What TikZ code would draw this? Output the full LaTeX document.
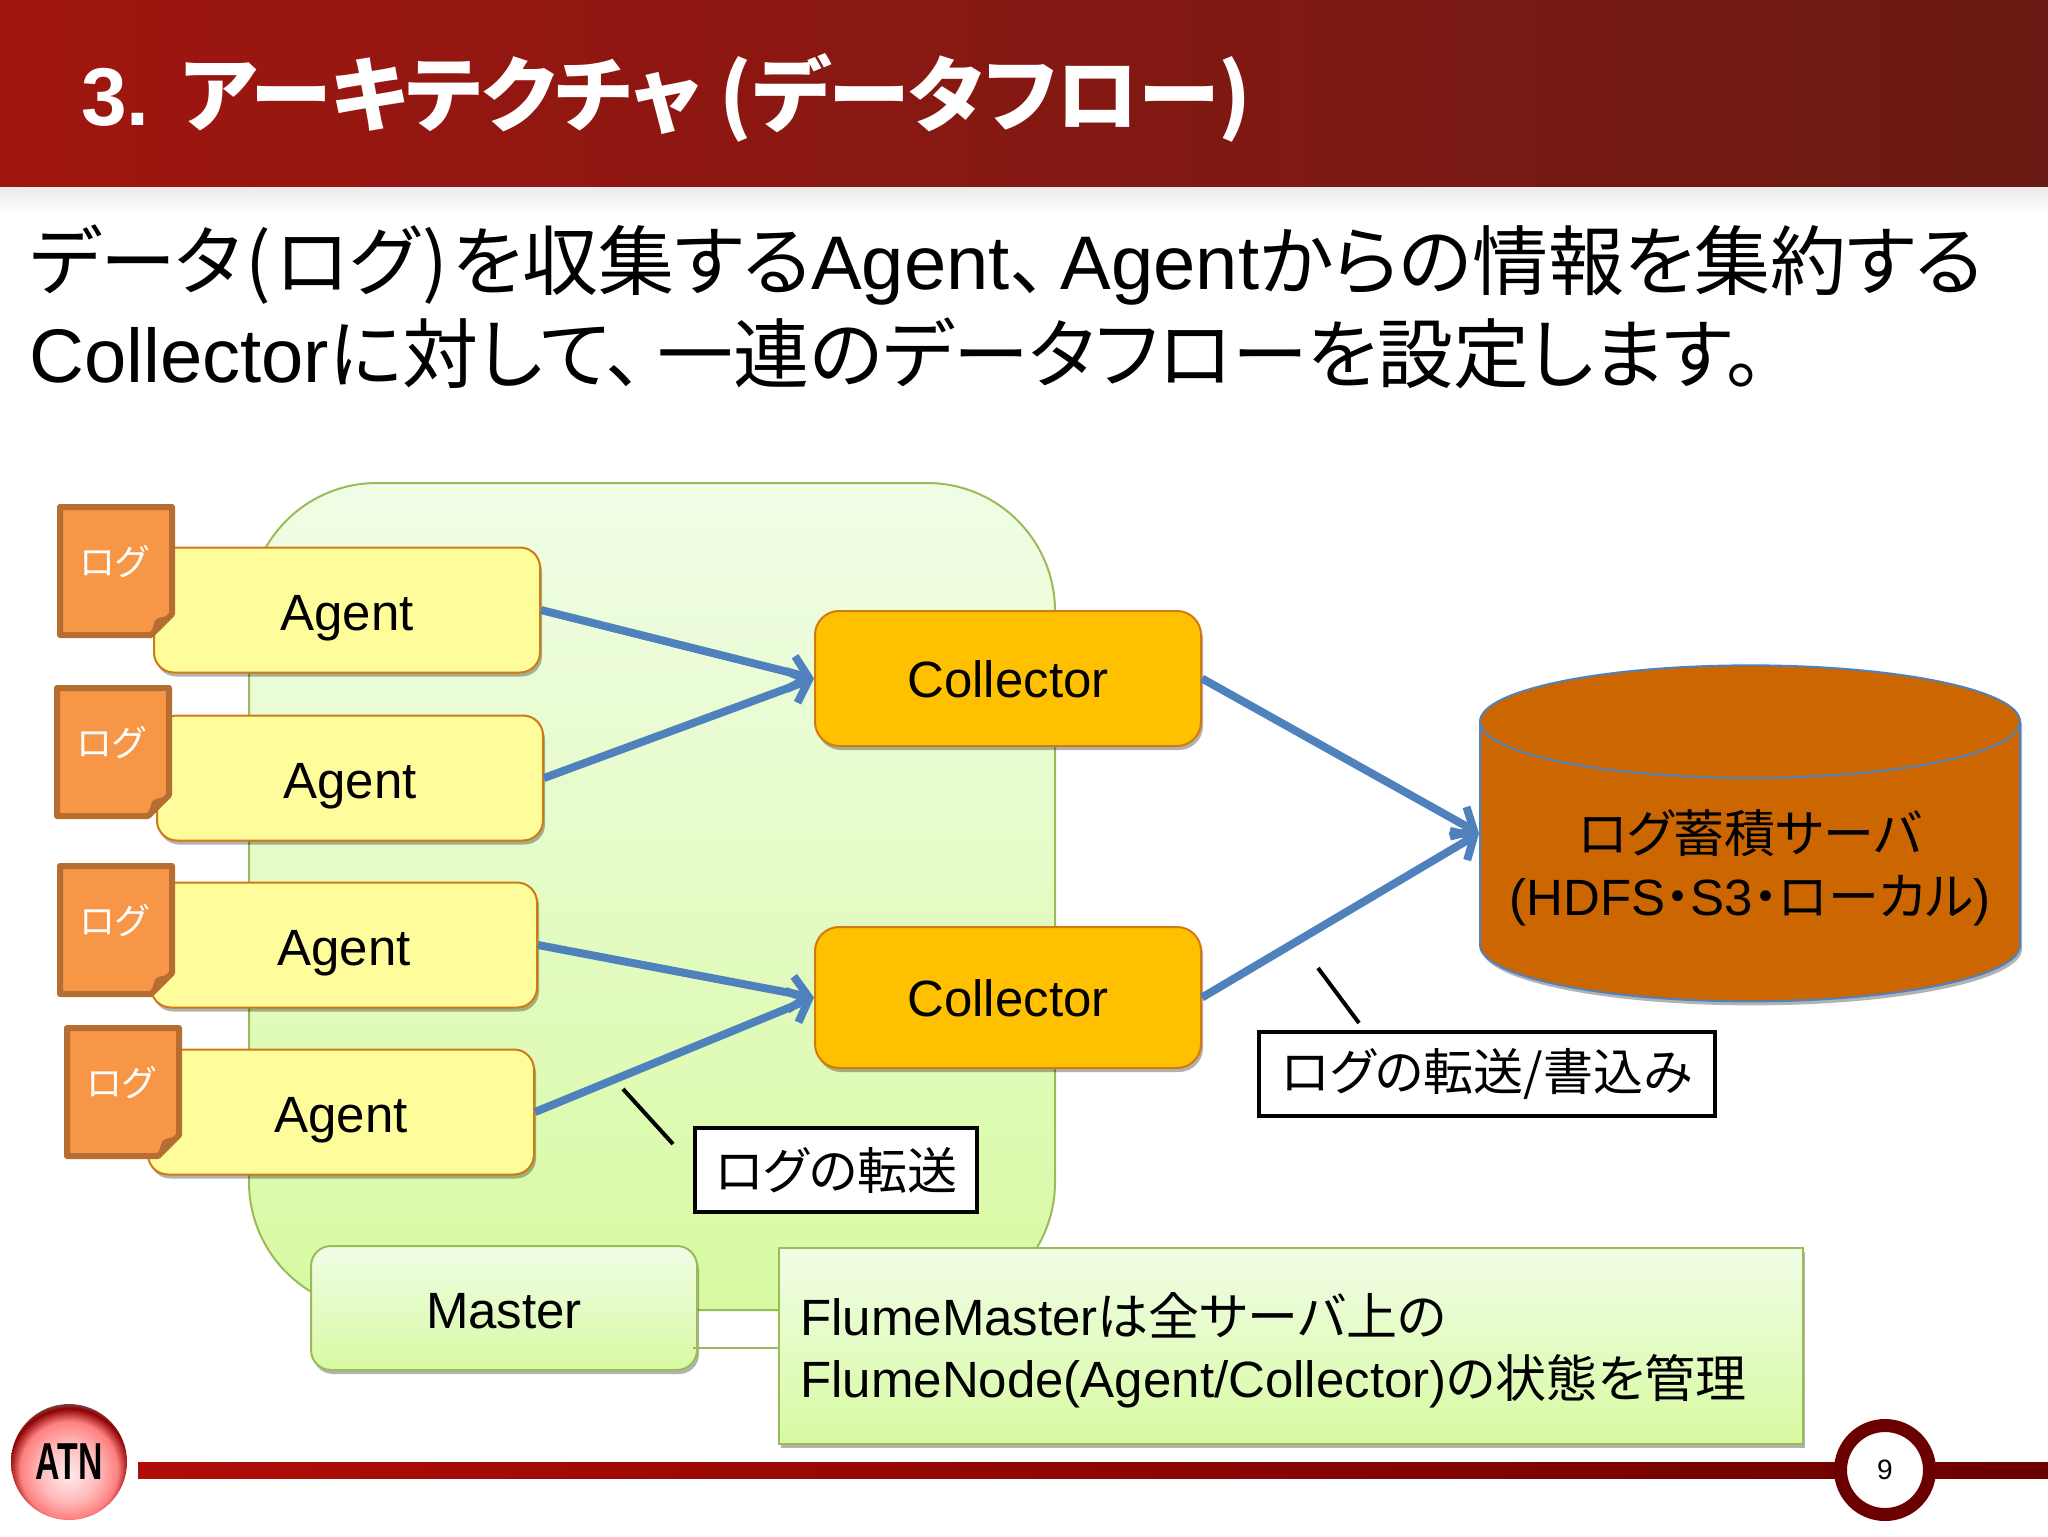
\documentclass[tikz,border=0pt]{standalone}
\usepackage{fontspec}
\setmainfont{Liberation Sans}
\newfontfamily\cjk[RawFeature=+palt]{Noto Sans CJK JP}
\newfontfamily\logofont[FakeStretch=0.65]{Liberation Sans}
\newcommand{\ja}[1]{{\cjk #1}}
\usetikzlibrary{arrows.meta}
\usetikzlibrary{shadows}
\usetikzlibrary{shapes.geometric}

\definecolor{headl}{HTML}{A01610}
\definecolor{headr}{HTML}{6A1A14}
\definecolor{bandl}{HTML}{B00D07}
\definecolor{bandr}{HTML}{6B0000}
\definecolor{leaf}{HTML}{9BBB59}
\definecolor{leaftop}{HTML}{F0FDE6}
\definecolor{leafbot}{HTML}{D8FAA2}
\definecolor{flow}{HTML}{4F81BD}
\definecolor{logfill}{HTML}{F79646}
\definecolor{logline}{HTML}{B66D31}
\definecolor{boxline}{HTML}{D07A12}
\definecolor{agentfill}{HTML}{FFFC9C}
\definecolor{collfill}{HTML}{FFC000}
\definecolor{storefill}{HTML}{CC6600}

\pgfdeclareradialshading{atnball}{\pgfpoint{0bp}{-6bp}}{%
  color(0bp)=(red!8!white); color(13bp)=(red!28!white); color(21bp)=(red!50!white);
  color(26bp)=(red!55!black); color(29bp)=(black!55); color(50bp)=(black!55)}

\tikzset{
  softshadow/.style={drop shadow={shadow xshift=1pt,shadow yshift=-2pt,opacity=0.3,fill=black}},
  boxtext/.style={text height=20.9pt,text depth=0pt,font=\fontsize{25.5}{30}\selectfont},
  agentbox/.style={draw=boxline,line width=1pt,rounded corners=10pt,fill=agentfill,
    minimum width=193pt,minimum height=62.5pt,inner sep=0pt,boxtext,softshadow},
  collbox/.style={agentbox,fill=collfill,rounded corners=12pt,text height=18.5pt},
  greenbox/.style={draw=leaf,line width=1pt,top color=leaftop,bottom color=leafbot,softshadow},
  logtext/.style={text=white,inner sep=0pt,font=\cjk\fontsize{18}{18}\selectfont},
  noticebox/.style={draw=black,line width=2pt,fill=white,inner sep=0pt,font=\cjk\fontsize{25}{30}\selectfont},
  flowline/.style={draw=flow,line width=4pt,-{Straight Barb[length=9pt,width=17pt]}},
  leaderline/.style={draw=black,line width=2pt},
}

\begin{document}
\begin{tikzpicture}[x=0.5pt,y=-0.5pt]
\useasboundingbox (0,0) rectangle (2048,1536);

% header
\shade[left color=headl,right color=headr] (0,0) rectangle (2048,187);
\shade[top color=black!8,bottom color=white] (0,187) rectangle (2048,212);
\node[anchor=west,text=white,inner sep=0pt,font=\fontsize{41}{41}\selectfont\bfseries] (title) at (81,98)
  {3. {\cjk\bfseries アーキテクチャ (データフロー)}};

\node[anchor=west,inner sep=0pt,align=left,font=\fontsize{38}{46.5}\selectfont] (intro) at (29,307)
  {\ja{データ\kern2pt(\kern2pt ログ\kern2pt)\kern2pt を収集する}Agent\ja{、}\kern6.5pt Agent\ja{からの情報を集約する}\\
   Collector\ja{に対して、\kern6.5pt 一連のデータフローを設定します。}};

% panel
\draw[draw=leaf,line width=1pt,top color=leaftop,bottom color=leafbot,rounded corners=64pt] (249,483) rectangle (1055,1310);

% agents
\node[agentbox] (agent1) at (347,610) {Agent};
\node[agentbox] (agent2) at (350,778) {Agent};
\node[agentbox] (agent3) at (344,945) {Agent};
\node[agentbox] (agent4) at (341,1112) {Agent};

\foreach \n/\x/\y in {1/57/504,2/54/685,3/57/863,4/64/1025}{
  \begin{scope}[shift={(\x,\y)}]
    \draw[draw=logline,fill=logfill,line width=3pt,line join=round]
      (3,3) -- (115,3) -- (115,110) -- (94,131) -- (3,131) -- cycle;
    \fill[logline] (115,111) .. controls (105,113) and (99,114) .. (98,117) .. controls (96,122) and (95,127) .. (93,133) -- cycle;
    \node[logtext] (log\n) at (57,58) {ログ};
  \end{scope}
}

% collectors and store
\node[collbox,minimum height=67.5pt] (coll1) at (1008,678.5) {Collector};
\node[collbox,minimum height=70.5pt] (coll2) at (1008,997.5) {Collector};
\node[cylinder,shape border rotate=90,aspect=0.234,draw=flow,line width=1pt,fill=storefill,
  minimum width=270pt,minimum height=168pt,inner sep=0pt,align=center,
  font=\fontsize{25.5}{31.5}\selectfont,softshadow] (store) at (1750,862)
  {\rule{0pt}{27pt}\ja{ログ蓄積サーバ}\\(HDFS\ja{・}S3\ja{・ローカル})};

\draw[flowline] (agent1.east) -- (coll1.west);
\draw[flowline] (agent2.east) -- (coll1.west);
\draw[flowline] (agent3.east) -- (coll2.west);
\draw[flowline] (agent4.east) -- (coll2.west);
\draw[flowline] (coll1.east) -- (store.shape center -| store.west);
\draw[flowline] (coll2.east) -- (store.shape center -| store.west);

% notices
\node[noticebox,minimum width=141pt,minimum height=42pt] (send) at (836,1170) {ログの転送};
\node[noticebox,minimum width=228pt,minimum height=42pt] (write) at (1487,1074) {ログの転送/書込み};
\coordinate (sendfrom) at (623,1089);
\coordinate (sendto) at (673,1144);
\coordinate (writefrom) at (1318,968);
\coordinate (writeto) at (1359,1023);
\draw[leaderline] (sendfrom) -- (sendto);
\draw[leaderline] (writefrom) -- (writeto);

% master
\node[greenbox,rounded corners=10pt,minimum width=193pt,minimum height=62pt,inner sep=0pt,boxtext] (master) at (504,1308) {Master};
\node[greenbox,anchor=north west,minimum width=512pt,minimum height=98pt,inner sep=0pt] (note) at (778,1247) {};
\node[anchor=west,inner sep=0pt,align=left,font=\fontsize{25.5}{31}\selectfont] (notetext) at (800,1350)
  {FlumeMaster\ja{は全サーバ上の}\\FlumeNode(Agent/Collector)\ja{の状態を管理}};
\coordinate (tie) at (693,1348);
\draw[draw=leaf,line width=1pt] (tie) -- (tie -| note.west);

% footer
\shade[left color=bandl,right color=bandr] (138,1462) rectangle (2048,1478);
\node[circle,draw=bandr,line width=6.5pt,fill=white,minimum size=44.5pt,inner sep=0pt,font=\fontsize{14}{14}\selectfont] (page) at (1885,1470) {9};
\node[circle,shading=atnball,minimum size=58pt,inner sep=0pt,
  font=\logofont\bfseries\fontsize{26}{26}\selectfont] (logo) at (69,1462) {ATN};

\end{tikzpicture}
\end{document}
